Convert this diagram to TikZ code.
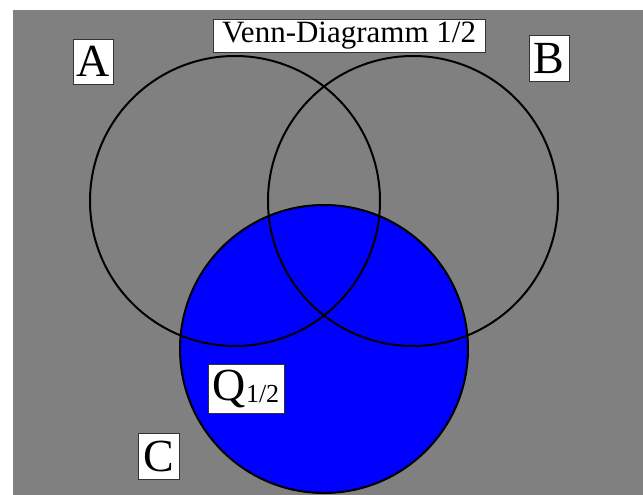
\documentclass[tikz,border=0pt]{standalone}
\usepackage{fontspec}
\setmainfont{Liberation Serif}
\usetikzlibrary{positioning}
\tikzset{
  setline/.style={draw=black, line width=2pt},
  setfill/.style={setline, fill=blue},
  labelbox/.style={draw=black!80, fill=white, line width=0.8pt, inner sep=0pt, align=center, font=\fontsize{46}{46}\selectfont},
  titlebox/.style={labelbox, font=\fontsize{31}{31}\selectfont}
}

\begin{document}
\begin{tikzpicture}[x=1pt, y=-1pt]
  \useasboundingbox (0,0) rectangle (643,495);
  \fill[gray] (13,10) rectangle (643,495);
  % the three sets
  \draw[setfill] (324,349) circle (144);
  \draw[setline] (235,201) circle (145);
  \draw[setline] (413,201) circle (145);
  % labels
  \node[titlebox, minimum width=272pt, minimum height=33pt] (title) at (349,35.5) {Venn-Diagramm 1/2};
  \node[labelbox, minimum width=40pt, minimum height=45pt] (labA) at (93,61.5) {A};
  \node[labelbox, minimum width=40pt, minimum height=46pt] (labB) at (549,58.5) {B};
  \node[labelbox, minimum width=41pt, minimum height=46pt] (labC) at (158.5,456) {C};
  \node[labelbox, minimum width=76pt, minimum height=49pt] (labQ) at (246,388.5) {Q{\fontsize{26}{26}\selectfont\raisebox{-2pt}{1/2}}};
\end{tikzpicture}
\end{document}
